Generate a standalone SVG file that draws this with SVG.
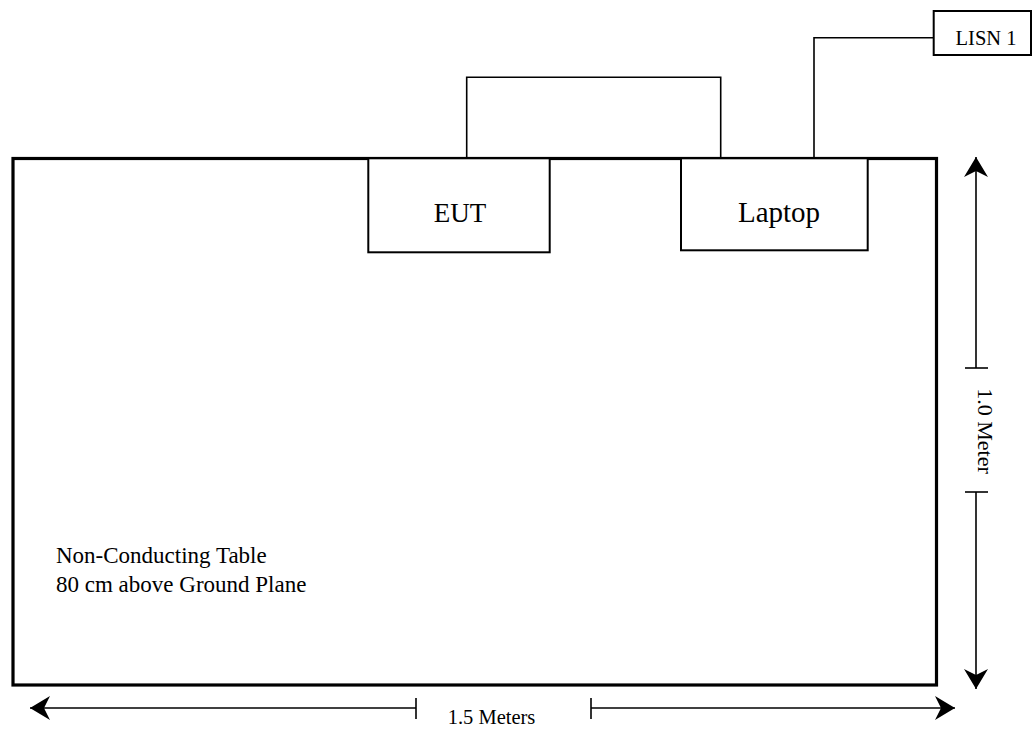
<svg xmlns="http://www.w3.org/2000/svg" width="1032" height="730" viewBox="0 0 1032 730">
  <style>
    text { font-family: "Liberation Serif", "Times New Roman", serif; fill: #000; }
    .box { fill: #fff; stroke: #000; stroke-width: 2; }
    .wire { fill: none; stroke: #000; stroke-width: 1.6; }
    .dim { fill: none; stroke: #000; stroke-width: 1.6; }
  </style>
  <defs>
    <marker id="stealth" viewBox="-20 -12 20 24" refX="0" refY="0" markerWidth="20" markerHeight="24" markerUnits="userSpaceOnUse" orient="auto">
      <path d="M0,0 L-20,-12 L-14,0 L-20,12 Z" fill="#000"/>
    </marker>
  </defs>
  <rect width="1032" height="730" fill="#fff"/>

  <g id="table">
    <rect x="13" y="158.5" width="923.5" height="526.5" fill="#fff" stroke="#000" stroke-width="3.2"/>
    <text x="56" y="563" font-size="23">Non-Conducting Table</text>
    <text x="56" y="592" font-size="23">80 cm above Ground Plane</text>
  </g>

  <g id="connectors">
    <polyline class="wire" points="466.7,158 466.7,77.3 720.7,77.3 720.7,158"/>
    <polyline class="wire" points="814,158 814,37.8 933.7,37.8"/>
  </g>

  <g id="eut">
    <rect class="box" x="368.3" y="158.3" width="181.4" height="94"/>
    <text x="460" y="222" font-size="27" text-anchor="middle">EUT</text>
  </g>

  <g id="laptop">
    <rect class="box" x="681" y="158.3" width="186.7" height="92"/>
    <text x="779" y="222" font-size="29" text-anchor="middle">Laptop</text>
  </g>

  <g id="lisn1">
    <rect class="box" x="933.7" y="11" width="97.3" height="44"/>
    <text x="986" y="45" font-size="20.5" text-anchor="middle">LISN 1</text>
  </g>

  <g id="dim-height">
    <line class="dim" x1="976" y1="368" x2="976" y2="157" marker-end="url(#stealth)"/>
    <line class="dim" x1="976" y1="492" x2="976" y2="689" marker-end="url(#stealth)"/>
    <line class="dim" x1="965" y1="368" x2="988" y2="368"/>
    <line class="dim" x1="965" y1="492" x2="988" y2="492"/>
    <text x="978" y="431" font-size="22" text-anchor="middle" transform="rotate(90 978 431)" dy="0">1.0 Meter</text>
  </g>

  <g id="dim-width">
    <line class="dim" x1="416" y1="708" x2="30" y2="708" marker-end="url(#stealth)"/>
    <line class="dim" x1="591" y1="708" x2="955" y2="708" marker-end="url(#stealth)"/>
    <line class="dim" x1="416" y1="698" x2="416" y2="719"/>
    <line class="dim" x1="591" y1="698" x2="591" y2="719"/>
    <text x="491.5" y="724" font-size="20.5" text-anchor="middle">1.5 Meters</text>
  </g>
</svg>
